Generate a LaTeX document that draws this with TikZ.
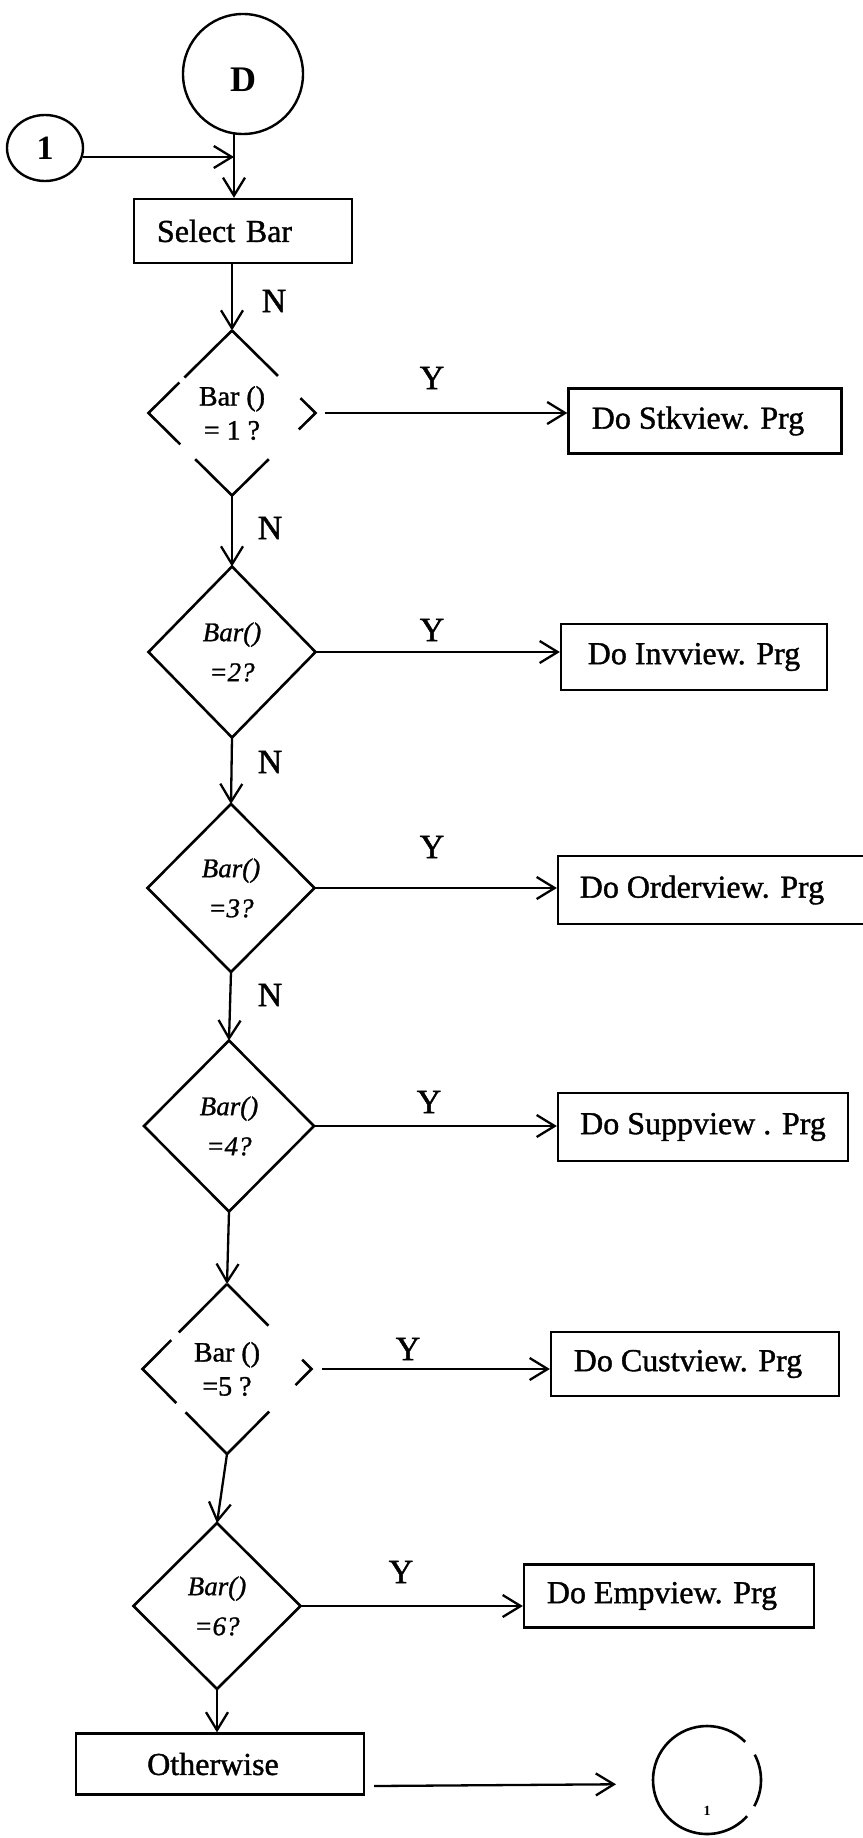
\documentclass[tikz,border=0pt]{standalone}
\usepackage{fontspec}
\setmainfont{Liberation Serif}
\newfontfamily\heavy{Liberation Serif}[FakeBold=1.2]
\newfontfamily\heavyit{Liberation Serif Italic}[FakeBold=1]
\usetikzlibrary{shapes.geometric,arrows.meta,calc}
\begin{document}
\begin{tikzpicture}[x=1pt,y=1pt,
  arr/.style={line width=2.3pt,-{Straight Barb[length=18pt,width=22pt]}},
  ln/.style={line width=2.6pt},
  box/.style={draw,line width=2.3pt,rectangle,inner sep=0pt,font=\heavy\fontsize{32}{36}\selectfont},
  dia/.style={diamond,draw,line width=2.6pt,inner sep=0pt,outer sep=0pt,align=center,font=\heavy\fontsize{28}{34}\selectfont},
  hand/.style={dia,font=\heavyit\fontsize{27}{40}\selectfont},
  lbl/.style={font=\heavy\fontsize{34}{34}\selectfont,inner sep=0pt}
]
\useasboundingbox (0,0) rectangle (862,-1838);

% start connectors
\node[circle,draw,line width=2.4pt,minimum size=120pt,inner sep=0pt,outer sep=0pt,font=\bfseries\fontsize{36}{36}\selectfont] (D) at (243,-74) {\smash{\raisebox{-18pt}{D}}};
\node[ellipse,draw,line width=2.4pt,minimum width=76pt,minimum height=66pt,inner sep=0pt,outer sep=0pt,font=\bfseries\fontsize{34}{34}\selectfont] (c1) at (45,-148) {1};
\coordinate (j) at (234,-157);

\node[box,minimum height=64pt,text width=172pt,align=left,inner xsep=23pt] (sel) at (243,-231) {Select Bar};

% decisions
\node[dia,draw=none,minimum width=167pt,minimum height=165pt] (d1) at (232,-413) {Bar ()\\= 1 ?};
\node[hand,minimum width=167pt,minimum height=171pt] (d2) at (232,-652) {Bar()\\=2?};
\node[hand,minimum width=167pt,minimum height=168pt] (d3) at (231,-888) {Bar()\\=3?};
\node[hand,minimum width=170pt,minimum height=171pt] (d4) at (229,-1126) {Bar()\\=4?};
\node[dia,draw=none,minimum width=169pt,minimum height=170pt] (d5) at (227,-1369) {Bar ()\\=5 ?};
\node[hand,minimum width=167pt,minimum height=166pt] (d6) at (217,-1606) {Bar()\\=6?};

% broken outlines of d1 and d5
\draw[ln] (d1.north) -- ($(d1.north)!0.57!(d1.west)$);
\draw[ln] ($(d1.north)!0.63!(d1.west)$) -- (d1.west) -- ($(d1.west)!0.38!(d1.south)$);
\draw[ln] ($(d1.west)!0.56!(d1.south)$) -- (d1.south) -- ($(d1.south)!0.44!(d1.east)$);
\draw[ln] ($(d1.south)!0.8!(d1.east)$) -- (d1.east) -- ($(d1.east)!0.18!(d1.north)$);
\draw[ln] ($(d1.east)!0.45!(d1.north)$) -- (d1.north);

\draw[ln] (d5.north) -- ($(d5.north)!0.57!(d5.west)$);
\draw[ln] ($(d5.north)!0.66!(d5.west)$) -- (d5.west) -- ($(d5.west)!0.4!(d5.south)$);
\draw[ln] ($(d5.west)!0.51!(d5.south)$) -- (d5.south) -- ($(d5.south)!0.5!(d5.east)$);
\draw[ln] ($(d5.south)!0.81!(d5.east)$) -- (d5.east) -- ($(d5.east)!0.11!(d5.north)$);
\draw[ln] ($(d5.east)!0.51!(d5.north)$) -- (d5.north);

% action boxes
\node[box,minimum width=273pt,minimum height=65pt] (s1) at (705,-421) {\hspace*{-14pt}Do Stkview. Prg};
\node[box,minimum width=266pt,minimum height=66pt] (s2) at (694,-657) {Do Invview. Prg};
\node[box,minimum width=308pt,minimum height=68pt] (s3) at (712,-890) {\hspace*{-20pt}Do Orderview. Prg};
\node[box,minimum width=290pt,minimum height=68pt] (s4) at (703,-1127) {Do Suppview . Prg};
\node[box,minimum width=288pt,minimum height=64pt] (s5) at (695,-1364) {\hspace*{-14pt}Do Custview. Prg};
\node[box,minimum width=290pt,minimum height=63pt] (s6) at (669,-1596) {\hspace*{-14pt}Do Empview. Prg};
\node[box,minimum width=288pt,minimum height=61pt] (oth) at (220,-1764) {\hspace*{-14pt}Otherwise};

% end connector
\node[circle,minimum size=108pt,inner sep=0pt,outer sep=0pt,font=\bfseries\fontsize{14}{14}\selectfont] (endc) at (707,-1780) {\smash{\raisebox{-35pt}{1}}};
\draw[ln] (endc.45) arc[start angle=45, end angle=318, radius=54pt];
\draw[ln] (endc.-29) arc[start angle=-29, end angle=28, radius=54pt];

% connectors
\draw[arr] (c1.east |- j) -- (j);
\draw[arr] (D.south -| j) -- (sel.north -| j);
\draw[arr] (d1.north |- sel.south) -- (d1.north);
\draw[arr,shorten <=9pt] (d1.east) -- (d1.east -| s1.west);
\draw[arr] (d1.south) -- (d2.north);
\draw[arr] (d2.east) -- (d2.east -| s2.west);
\draw[arr] (d2.south) -- (d3.north);
\draw[arr] (d3.east) -- (d3.east -| s3.west);
\draw[arr] (d3.south) -- (d4.north);
\draw[arr] (d4.east) -- (d4.east -| s4.west);
\draw[arr] (d4.south) -- (d5.north);
\draw[arr,shorten <=10pt] (d5.east) -- (d5.east -| s5.west);
\draw[arr] (d5.south) -- (d6.north);
\draw[arr] (d6.east) -- (d6.east -| s6.west);
\draw[arr] (d6.south) -- (d6.south |- oth.north);
\draw[arr,shorten >=37pt] ([shift={(9,-22)}]oth.east) -- ([yshift=-4pt]endc.west);

% labels
\node[lbl] (n1) at (274,-301) {N};
\node[lbl] (y1) at (432,-378) {Y};
\node[lbl] (n2) at (270,-528) {N};
\node[lbl] (y2) at (432,-630) {Y};
\node[lbl] (n3) at (270,-762) {N};
\node[lbl] (y3) at (432,-847) {Y};
\node[lbl] (n4) at (270,-995) {N};
\node[lbl] (y4) at (429,-1102) {Y};
\node[lbl] (y5) at (408,-1349) {Y};
\node[lbl] (y6) at (401,-1572) {Y};
\end{tikzpicture}
\end{document}
